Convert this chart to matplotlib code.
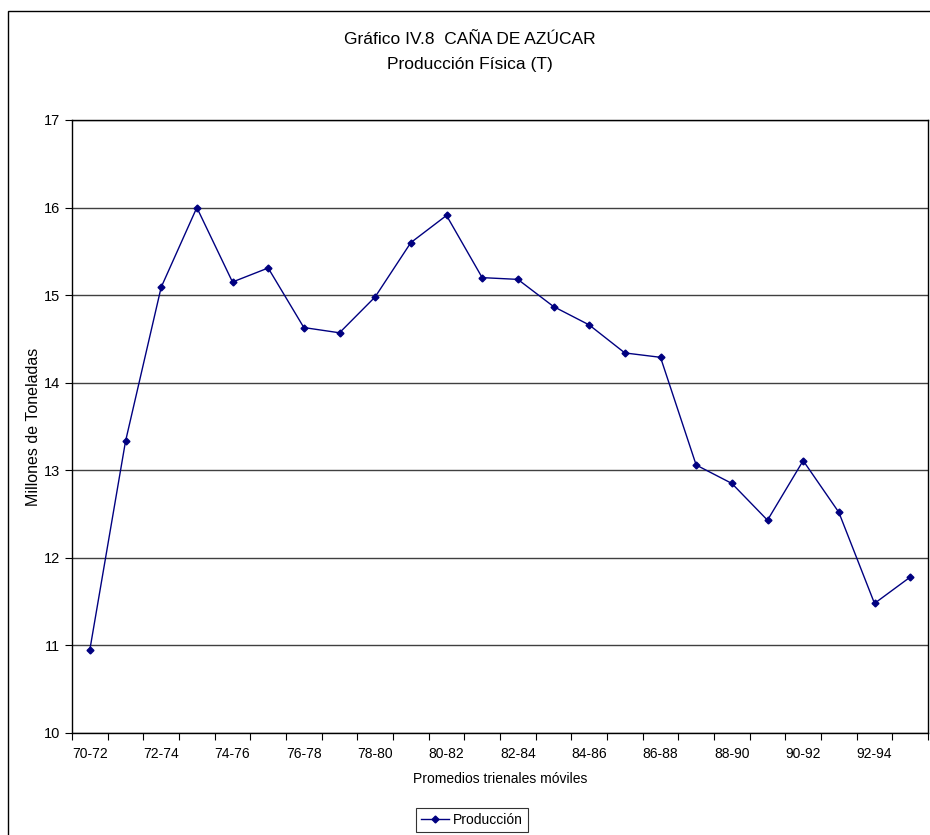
import matplotlib.pyplot as plt
from matplotlib.patches import Rectangle

periods = [
    "70-72", "71-73", "72-74", "73-75", "74-76", "75-77", "76-78", "77-79",
    "78-80", "79-81", "80-82", "81-83", "82-84", "83-85", "84-86", "85-87",
    "86-88", "87-89", "88-90", "89-91", "90-92", "91-93", "92-94", "93-95",
]
produccion = [
    10.95, 13.33, 15.09, 16.00, 15.15, 15.31, 14.63, 14.57,
    14.98, 15.60, 15.91, 15.20, 15.18, 14.87, 14.66, 14.34,
    14.29, 13.06, 12.85, 12.43, 13.11, 12.52, 11.48, 11.78,
]
y_ticks = [10, 11, 12, 13, 14, 15, 16, 17]

plt.rcParams["font.family"] = ["Liberation Sans", "DejaVu Sans"]

W, H = 930, 835
fig = plt.figure(figsize=(W / 100, H / 100), dpi=100)

# outer chart frame (cropped on right and bottom)
fig.patches.append(Rectangle((8 / W, -0.05), 1.2, 1 - 11 / H + 0.05,
                             transform=fig.transFigure, fill=False,
                             edgecolor="black", linewidth=1.0))

ax = fig.add_axes([72 / W, 1 - 733 / H, (928 - 72) / W, (733 - 120) / H])

x = list(range(len(periods)))
ax.plot(x, produccion, color="#000080", linewidth=1.0, marker="D",
        markersize=3.5, label="Producción")

ax.set_xlim(-0.5, len(periods) - 0.5)
ax.set_ylim(10, 17)
ax.set_yticks(y_ticks)
ax.set_yticklabels([str(v) for v in y_ticks], fontsize=10.5)

# tick marks between categories, labels every other category
ax.set_xticks([i - 0.5 for i in range(len(periods) + 1)])
ax.set_xticklabels([])
ax.set_xticks(x[::2], minor=True)
ax.set_xticklabels(periods[::2], minor=True, fontsize=10)
ax.tick_params(axis="x", which="minor", length=0, pad=10)
ax.tick_params(axis="x", which="major", length=5, direction="out", color="black")
ax.tick_params(axis="y", length=5, direction="out")

ax.grid(axis="y", color="#404040", linewidth=1.0)
ax.set_axisbelow(True)
for s in ax.spines.values():
    s.set_color("black")
    s.set_linewidth(1.0)

ax.set_ylabel("Millones de Toneladas", fontsize=11.5, labelpad=2)
ax.set_xlabel("Promedios trienales móviles", fontsize=10, labelpad=8)

fig.text(470 / W, 1 - 40 / H, "Gráfico IV.8  CAÑA DE AZÚCAR", ha="center",
         va="center", fontsize=12.5)
fig.text(470 / W, 1 - 64 / H, "Producción Física (T)", ha="center",
         va="center", fontsize=12.5)

leg = fig.legend(loc="center", bbox_to_anchor=(472 / W, 1 - 820 / H),
                 fontsize=10, frameon=True, fancybox=False, handlelength=2.0,
                 borderpad=0.35, handletextpad=0.3)
leg.get_frame().set_edgecolor("black")
leg.get_frame().set_linewidth(0.8)

fig.savefig("out.png", dpi=100)
